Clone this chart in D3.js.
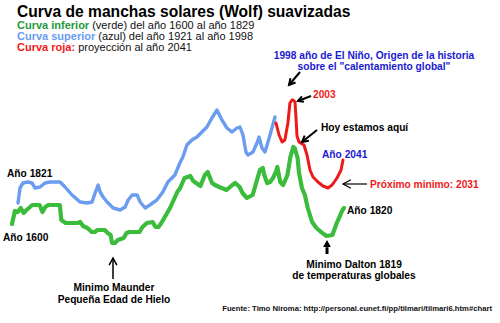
<!DOCTYPE html>
<html>
<head>
<meta charset="utf-8">
<script src="https://cdn.jsdelivr.net/npm/d3@7"></script>
<style>
  html, body { margin: 0; padding: 0; background: #fff; }
  svg { display: block; font-family: "Liberation Sans", Arial, sans-serif; }
</style>
</head>
<body>
<svg id="chart" width="500" height="323"></svg>
<script>
// Smoothed Wolf sunspot number, lower curve (green): 1600–1829
const greenYears = [1600,1602,1604,1606,1608,1610,1614,1619,1621,1623,1625,1633,1634,1637,1645,1647,1649,1652,1655,1657,1659,1664,1666,1668,1669,1671,1673,1677,1679,1681,1688,1690,1693,1697,1699,1701,1703,1705,1709,1714,1716,1719,1723,1725,1730,1733,1735,1738,1740,1743,1748,1752,1754,1757,1759,1762,1766,1769,1771,1773,1774,1776,1778,1780,1782,1783,1785,1787,1790,1792,1794,1795,1797,1798,1800,1802,1804,1807,1810,1814,1817,1821,1824,1828,1829];
const greenValues = [26,39,38,42,37,40,45,45,38,43,45,45,30,27,27,28,24,22,18,18,20,20,17,15,7,7,10,12,17,18,18,23,27,28,23,23,27,32,42,58,62,72,74,69,64,75,78,67,65,63,60,65,67,63,57,52,55,70,80,82,75,67,68,72,78,83,68,65,75,93,103,102,92,77,62,55,42,28,22,17,14,15,27,40,42];

// Upper curve (blue): 1921–1998
const blueYears = [1921.0,1921.6,1922.5,1924.0,1925.2,1926.1,1927.6,1929.1,1930.6,1933.6,1935.1,1937.2,1939.6,1941.7,1943.2,1944.1,1945.0,1945.6,1946.5,1947.7,1949.5,1951.6,1953.1,1954.0,1955.2,1956.7,1957.6,1959.1,1960.5,1962.6,1964.4,1965.9,1968.0,1969.5,1970.4,1971.6,1973.1,1974.6,1976.1,1977.6,1979.1,1980.6,1982.1,1983.6,1985.1,1986.6,1987.5,1988.4,1989.3,1989.9,1991.4,1992.6,1993.2,1994.1,1995.0,1995.9,1997.1,1998.0];
const blueValues = [47,62,67,68,67,62,63,67,68,68,63,55,48,47,48,57,65,58,53,48,42,40,43,50,55,55,48,42,45,50,58,68,75,87,93,105,110,113,118,123,132,140,130,122,118,122,123,115,98,95,98,107,113,102,98,108,122,133];

// Red curve: projection 1998–2041
const redYears = [1998.0,1998.9,1999.8,2000.6,2001.5,2002.1,2002.7,2003.0,2004.6,2005.4,2006.2,2007.8,2011.8,2014.2,2016.6,2019.0,2023.0,2027.0,2031.0,2033.7,2037.0,2039.7,2041.0];
const redValues = [127,115,108,110,127,147,150,150,148,132,114,108,105,95,80,73,68,64,62,65,72,80,90];

const svg = d3.select("#chart");

// Shared vertical scale (smoothed sunspot number)
const y = d3.scaleLinear().domain([0, 160]).range([250, 90]);

// Each curve runs on its own time axis
const xGreen = d3.scaleLinear().domain([1600, 1829]).range([12, 344]);
const xBlue  = d3.scaleLinear().domain([1921, 1998]).range([18, 275]);
const xRed   = d3.scaleLinear().domain([1998, 2003, 2031, 2041]).range([276, 293, 328, 343]);

function drawCurve(years, values, xs, color, width) {
  const pts = years.map((yr, i) => [yr, values[i]]);
  const line = d3.line().x(d => xs(d[0])).y(d => y(d[1])).curve(d3.curveLinear);
  svg.append("path")
    .datum(pts)
    .attr("d", line)
    .attr("fill", "none")
    .attr("stroke", color)
    .attr("stroke-width", width)
    .attr("stroke-linejoin", "round")
    .attr("stroke-linecap", "round");
}

drawCurve(blueYears, blueValues, xBlue, "#6a9cf0", 3.4);
drawCurve(greenYears, greenValues, xGreen, "#3cbc3c", 4.2);
drawCurve(redYears, redValues, xRed, "#ee1a1a", 3);

// Title and legend
svg.append("text").attr("x", 17).attr("y", 17)
  .attr("font-size", 15.6).attr("font-weight", "bold").attr("fill", "#000")
  .text("Curva de manchas solares (Wolf) suavizadas");

const legend = [
  { lead: "Curva inferior", color: "#1e9a3c", rest: " (verde) del año 1600 al año 1829" },
  { lead: "Curva superior", color: "#6a9cf0", rest: " (azul) del año 1921 al año 1998" },
  { lead: "Curva roja:", color: "#ee1a1a", rest: " proyección al año 2041" }
];
legend.forEach((d, i) => {
  const t = svg.append("text").attr("x", 17).attr("y", 29 + i * 11)
    .attr("font-size", 11);
  t.append("tspan").attr("font-weight", "bold").attr("fill", d.color).text(d.lead);
  t.append("tspan").attr("fill", "#111").text(d.rest);
});

// Annotation helpers
const annSize = 10.2;
function label(x, yy, txt, color, anchor) {
  svg.append("text").attr("x", x).attr("y", yy)
    .attr("font-size", annSize).attr("font-weight", "bold")
    .attr("fill", color || "#000").attr("text-anchor", anchor || "start")
    .text(txt);
}

function arrow(x1, y1, x2, y2, width, head, filled) {
  const g = svg.append("g").attr("stroke", "#000").attr("fill", "#000");
  const ang = Math.atan2(y2 - y1, x2 - x1);
  const a1 = ang + Math.PI - 0.5, a2 = ang + Math.PI + 0.5;
  const p1 = [x2 + head * Math.cos(a1), y2 + head * Math.sin(a1)];
  const p2 = [x2 + head * Math.cos(a2), y2 + head * Math.sin(a2)];
  if (filled) {
    const back = [x2 + head * 0.9 * Math.cos(ang + Math.PI), y2 + head * 0.9 * Math.sin(ang + Math.PI)];
    g.append("line").attr("x1", x1).attr("y1", y1).attr("x2", back[0]).attr("y2", back[1])
      .attr("stroke-width", width);
    g.append("path").attr("d", `M${x2},${y2}L${p1[0]},${p1[1]}L${p2[0]},${p2[1]}Z`).attr("stroke", "none");
  } else {
    g.append("line").attr("x1", x1).attr("y1", y1).attr("x2", x2).attr("y2", y2)
      .attr("stroke-width", width);
    g.append("path").attr("d", `M${p1[0]},${p1[1]}L${x2},${y2}L${p2[0]},${p2[1]}`)
      .attr("fill", "none").attr("stroke-width", width).attr("stroke-linejoin", "miter");
  }
}

label(374, 59, "1998 año de El Niño, Origen de la historia", "#1a1ad0", "middle");
label(374, 70, "sobre el \"calentamiento global\"", "#1a1ad0", "middle");
arrow(300, 72, 289, 85, 2, 7, false);

label(313, 98, "2003", "#ee1a1a");
arrow(311, 96, 298, 101, 2, 6, false);

label(321, 131, "Hoy estamos aquí", "#000");
arrow(317, 130, 302, 142, 2, 7, false);

label(322, 158, "Año 2041", "#1a1ad0");

label(370, 188, "Próximo minimo: 2031", "#ee1a1a");
arrow(367, 184, 343, 184, 1.2, 9, false);

label(347, 214, "Año 1820", "#000");

arrow(327, 254, 327, 240, 3, 8, true);
label(354, 268, "Minimo Dalton 1819", "#000", "middle");
label(354, 279, "de temperaturas globales", "#000", "middle");

label(7, 177, "Año 1821", "#000");
label(3, 241, "Año 1600", "#000");

arrow(113, 279, 113, 258, 1.5, 8, false);
label(114, 291, "Minimo Maunder", "#000", "middle");
label(114, 303, "Pequeña Edad de Hielo", "#000", "middle");

svg.append("text").attr("x", 492).attr("y", 311)
  .attr("font-size", 7.7).attr("font-weight", "bold").attr("text-anchor", "end")
  .attr("fill", "#111")
  .text("Fuente: Timo Niroma: http://personal.eunet.fi/pp/tilmari/tilmari6.htm#chart");
</script>
</body>
</html>
